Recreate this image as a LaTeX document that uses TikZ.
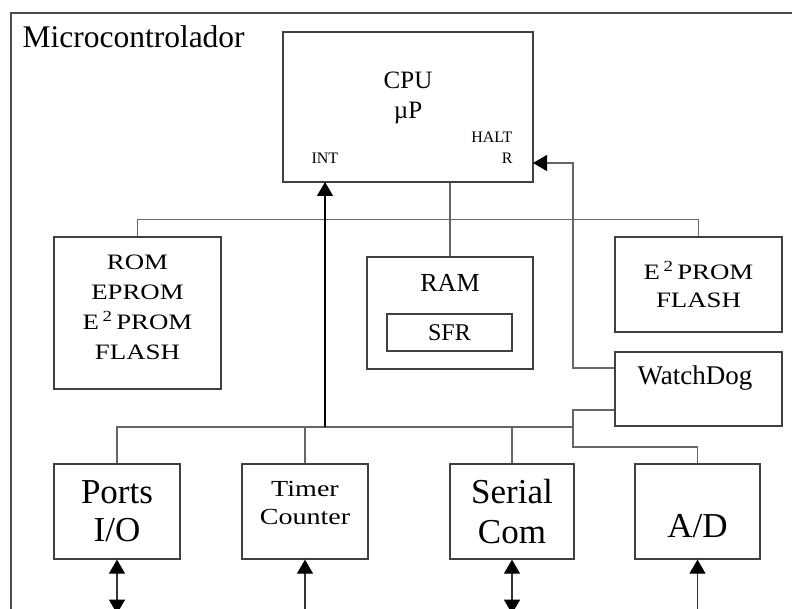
\documentclass[tikz,border=0pt]{standalone}
\usepackage{fontspec}
\setmainfont{Liberation Serif}
\newfontfamily\widefont[FakeStretch=1.22]{Liberation Serif}
\usetikzlibrary{arrows.meta}

\begin{document}
\begin{tikzpicture}[x=1pt,y=-1pt]

\tikzstyle{block}=[rectangle,draw=black!75,line width=1.3pt,inner sep=0pt]
\tikzstyle{link}=[draw=black!60,line width=1.1pt]
\tikzstyle{sig}=[link,-{Triangle[color=black,width=16pt,length=14pt]}]
\tikzstyle{bisig}=[link,draw=black!80,{Triangle[color=black,width=16pt,length=14pt]}-{Triangle[color=black,width=16pt,length=14pt]}]

\useasboundingbox (0,0) rectangle (792,609);
\draw[black!70,line width=1.3pt] (11,640) -- (11,13) -- (800,13);
\node[anchor=base west,font=\fontsize{31.5}{36}\selectfont] (title) at (19,48) {Microcontrolador};

% CPU
\node[block,minimum width=250pt,minimum height=150pt] (cpu) at (408,107) {};
\node[font=\fontsize{25}{30}\selectfont,align=center] (cpulbl) at (408,98) {CPU\\µP};
\node[anchor=west,font=\fontsize{16}{21}\selectfont] (int) at (308,158) {INT};
\node[anchor=east,align=right,font=\fontsize{16}{21}\selectfont] (halt) at (516,148) {HALT\\R};

% memories
\node[block,minimum width=167pt,minimum height=152pt] (rom) at (137.5,313) {};
\node[align=center,font=\widefont\fontsize{22}{30}\selectfont] (romlbl) at (137.5,307) {ROM\\EPROM\\E\,\textsuperscript{2}\,PROM\\FLASH};
\node[block,minimum width=166pt,minimum height=112pt] (ram) at (450,313) {};
\node[font=\fontsize{26}{30}\selectfont] (ramlbl) at (450,283) {RAM};
\node[block,minimum width=125pt,minimum height=37pt,font=\fontsize{24}{28}\selectfont] (sfr) at (449.5,332.5) {SFR};
\node[block,minimum width=167pt,minimum height=95pt,align=center,font=\widefont\fontsize{22}{28}\selectfont] (eeprom) at (698.5,284.5) {E\,\textsuperscript{2}\,PROM\\FLASH};
\node[block,minimum width=167pt,minimum height=74pt] (watchdog) at (698.5,389) {};
\node[font=\fontsize{27}{30}\selectfont] (wdlbl) at (695,378) {WatchDog};

% peripherals
\node[block,minimum width=126pt,minimum height=95pt,align=center,font=\fontsize{35}{38}\selectfont] (ports) at (117,511.5) {Ports\\I/O};
\node[block,minimum width=126pt,minimum height=95pt] (timer) at (305,511.5) {};
\node[align=center,font=\widefont\fontsize{23}{28}\selectfont] (timerlbl) at (305,503) {Timer\\Counter};
\node[block,minimum width=124pt,minimum height=95pt,align=center,font=\fontsize{35}{40}\selectfont] (serial) at (512,511.5) {Serial\\Com};
\node[block,minimum width=125pt,minimum height=95pt] (ad) at (697.5,511.5) {};
\node[font=\fontsize{35}{38}\selectfont] (adlbl) at (697.5,526) {A/D};

\coordinate (jn) at (573,427);
\coordinate (intpin) at (325,182);
\coordinate (haltpin) at (533,163);

% buses
\draw[link] (rom.north) -- ++(0,-17) -| (eeprom.north);
\draw[link] (ram.north |- cpu.south) -- (ram.north);
\draw[link] (ports.north) |- (jn);
\draw[link] (timer.north) -- (timer.north |- jn);
\draw[link] (serial.north) -- (serial.north |- jn);
\draw[link] ([yshift=-21pt]watchdog.west) -| (jn) -- ++(0,20) -| (ad.north);

% signals
\draw[sig] ([yshift=21pt]watchdog.west) -| ([xshift=40pt]haltpin) -- (haltpin);
\draw[sig,draw=black,line width=1.4pt] (intpin |- jn) -- (intpin);
\draw[bisig] (ports.south) -- ++(0,54);
\draw[sig,draw=black!80] ([yshift=-55pt]timer.south) -- (timer.south);
\draw[bisig] (serial.south) -- ++(0,54);
\draw[sig,draw=black!80] ([yshift=-55pt]ad.south) -- (ad.south);
\end{tikzpicture}
\end{document}
